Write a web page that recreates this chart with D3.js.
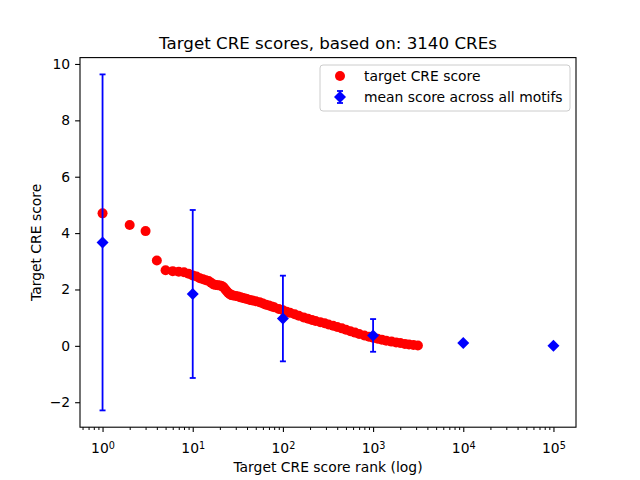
<!DOCTYPE html>
<html>
<head>
<meta charset="utf-8">
<script src="https://cdn.jsdelivr.net/npm/d3@7"></script>
<style>
body { margin: 0; background: #fff; }
text { font-family: "DejaVu Sans", sans-serif; }
</style>
</head>
<body>
<svg width="640" height="480"></svg>
<script>
// target CRE score by rank (sampled along the curve)
var ranks = [1, 2, 3, 4, 5, 6, 7, 8, 9, 10, 11, 12, 13, 14, 15, 16, 17, 18, 19, 20,
    21, 22, 23, 24, 25, 26, 27, 28, 30, 32, 34, 36, 38, 40, 43, 46, 50, 55, 60, 65,
    70, 75, 80, 90, 100, 110, 120, 135, 150, 170, 190, 210, 230, 260, 290, 320, 360,
    400, 450, 500, 560, 630, 700, 800, 900, 1000, 1120, 1250, 1400, 1600, 1800, 2000,
    2250, 2500, 2800, 3140];
var scores = [4.70, 4.29, 4.07, 3.03, 2.68, 2.65, 2.63, 2.61, 2.56, 2.50, 2.46, 2.40,
    2.36, 2.33, 2.30, 2.24, 2.18, 2.16, 2.15, 2.14, 2.12, 2.08, 2.00, 1.93, 1.87, 1.82,
    1.80, 1.79, 1.77, 1.75, 1.72, 1.70, 1.68, 1.66, 1.63, 1.61, 1.58, 1.55, 1.50, 1.46,
    1.43, 1.40, 1.37, 1.31, 1.26, 1.21, 1.17, 1.12, 1.07, 1.01, 0.96, 0.92, 0.88, 0.84,
    0.80, 0.76, 0.71, 0.67, 0.62, 0.57, 0.52, 0.47, 0.42, 0.37, 0.32, 0.29, 0.25, 0.22,
    0.18, 0.15, 0.12, 0.10, 0.07, 0.05, 0.03, 0.01];

// mean score across all motifs
var meanRanks = [1, 10, 100, 1000, 10000, 100000];
var meanScores = [3.67, 1.84, 0.97, 0.37, 0.10, 0.00];
var meanErr = [5.96, 2.98, 1.52, 0.58, 0.04, 0.02];

var xTicks = [1, 10, 100, 1000, 10000, 100000];
var yTicks = [-2, 0, 2, 4, 6, 8, 10];

(function () {
    var svg = d3.select("svg");
    var left = 80, right = 576, plotTop = 57.6, plotBottom = 427.2;

    var x = d3.scaleLog().domain([Math.pow(10, -0.25), Math.pow(10, 5.25)]).range([left, right]);
    var yMin = -2.29, yMax = 9.63, pad = (yMax - yMin) * 0.05;
    var y = d3.scaleLinear().domain([yMin - pad, yMax + pad]).range([plotBottom, plotTop]);

    var red = ranks.map(function (r, i) { return [r, scores[i]]; });
    var blue = meanRanks.map(function (r, i) { return [r, meanScores[i], meanErr[i]]; });

    svg.append("g")
        .selectAll("circle")
        .data(red)
        .enter().append("circle")
        .attr("cx", function (d) { return x(d[0]); })
        .attr("cy", function (d) { return y(d[1]); })
        .attr("r", 5)
        .attr("fill", "#ff0000");

    var eb = svg.append("g").attr("stroke", "#0000ff").attr("stroke-width", 1.8);
    eb.selectAll("line.bar")
        .data(blue)
        .enter().append("line")
        .attr("class", "bar")
        .attr("x1", function (d) { return x(d[0]); })
        .attr("x2", function (d) { return x(d[0]); })
        .attr("y1", function (d) { return y(d[1] - d[2]); })
        .attr("y2", function (d) { return y(d[1] + d[2]); });
    [-1, 1].forEach(function (s) {
        eb.selectAll("line.cap" + s)
            .data(blue)
            .enter().append("line")
            .attr("class", "cap" + s)
            .attr("x1", function (d) { return x(d[0]) - 3; })
            .attr("x2", function (d) { return x(d[0]) + 3; })
            .attr("y1", function (d) { return y(d[1] + s * d[2]); })
            .attr("y2", function (d) { return y(d[1] + s * d[2]); });
    });

    var diamond = "M0,-6L6,0L0,6L-6,0Z";
    svg.append("g")
        .selectAll("path")
        .data(blue)
        .enter().append("path")
        .attr("d", diamond)
        .attr("transform", function (d) { return "translate(" + x(d[0]) + "," + y(d[1]) + ")"; })
        .attr("fill", "#0000ff");

    // frame
    svg.append("rect")
        .attr("x", left).attr("y", plotTop)
        .attr("width", right - left).attr("height", plotBottom - plotTop)
        .attr("fill", "none").attr("stroke", "#000").attr("stroke-width", 1.1);

    // minor x ticks
    var minor = [];
    for (var e = -1; e <= 5; e++) {
        for (var m = 2; m <= 9; m++) {
            var v = m * Math.pow(10, e);
            if (v > x.domain()[0] && v < x.domain()[1]) minor.push(v);
        }
    }
    svg.append("g")
        .attr("transform", "translate(0," + plotBottom + ")")
        .call(d3.axisBottom(x).tickValues(minor).tickSize(2.8).tickFormat(""))
        .call(function (g) { g.select(".domain").remove(); });

    var xAxis = svg.append("g")
        .attr("transform", "translate(0," + plotBottom + ")")
        .call(d3.axisBottom(x).tickValues(xTicks).tickSize(4.9).tickPadding(4.9).tickFormat(""));
    xAxis.select(".domain").remove();
    xAxis.selectAll(".tick line").attr("stroke-width", 1.1);
    xAxis.selectAll(".tick text")
        .attr("fill", "#000")
        .attr("font-size", 13.9)
        .attr("dy", "1.15em")
        .each(function (d) {
            var t = d3.select(this);
            t.append("tspan").text("10");
            t.append("tspan").attr("dy", "-0.45em").attr("font-size", 9.7).text(Math.round(Math.log10(d)));
        });

    var yAxis = svg.append("g")
        .attr("transform", "translate(" + left + ",0)")
        .call(d3.axisLeft(y).tickValues(yTicks).tickSize(4.9).tickPadding(4.9)
            .tickFormat(function (d) { return d < 0 ? "\u2212" + Math.abs(d) : d; }));
    yAxis.select(".domain").remove();
    yAxis.selectAll(".tick line").attr("stroke-width", 1.1);
    yAxis.selectAll(".tick text").attr("fill", "#000").attr("font-size", 13.9);

    svg.append("text")
        .attr("x", (left + right) / 2).attr("y", 49)
        .attr("text-anchor", "middle").attr("font-size", 16.7)
        .text("Target CRE scores, based on: 3140 CREs");

    svg.append("text")
        .attr("x", (left + right) / 2).attr("y", 472)
        .attr("text-anchor", "middle").attr("font-size", 13.9)
        .text("Target CRE score rank (log)");

    svg.append("text")
        .attr("transform", "translate(41," + (plotTop + plotBottom) / 2 + ") rotate(-90)")
        .attr("text-anchor", "middle").attr("font-size", 13.9)
        .text("Target CRE score");

    // legend
    var lg = svg.append("g").attr("transform", "translate(320,65)");
    lg.append("rect")
        .attr("width", 250).attr("height", 46).attr("rx", 3)
        .attr("fill", "#fff").attr("fill-opacity", 0.8)
        .attr("stroke", "#cccccc").attr("stroke-width", 1);
    lg.append("circle").attr("cx", 20).attr("cy", 11).attr("r", 5).attr("fill", "#ff0000");
    lg.append("line").attr("x1", 20).attr("x2", 20).attr("y1", 26).attr("y2", 38)
        .attr("stroke", "#0000ff").attr("stroke-width", 1.8);
    lg.append("line").attr("x1", 17).attr("x2", 23).attr("y1", 26).attr("y2", 26)
        .attr("stroke", "#0000ff").attr("stroke-width", 1.8);
    lg.append("line").attr("x1", 17).attr("x2", 23).attr("y1", 38).attr("y2", 38)
        .attr("stroke", "#0000ff").attr("stroke-width", 1.8);
    lg.append("path").attr("d", diamond).attr("transform", "translate(20,32)").attr("fill", "#0000ff");
    lg.append("text").attr("x", 44).attr("y", 16).attr("font-size", 13.9).text("target CRE score");
    lg.append("text").attr("x", 44).attr("y", 37).attr("font-size", 13.9).text("mean score across all motifs");
})();
</script>
</body>
</html>
